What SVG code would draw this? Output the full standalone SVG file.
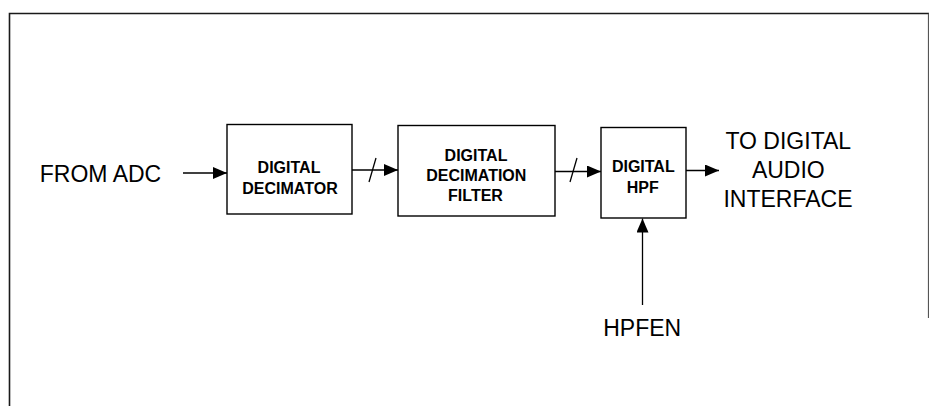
<svg xmlns="http://www.w3.org/2000/svg" width="929" height="406" viewBox="0 0 929 406">
<style>
.frame{fill:none;stroke:#1a1a1a;stroke-width:1.6}
.box{fill:#fff;stroke:#000;stroke-width:1.4}
.ln{fill:none;stroke:#000;stroke-width:1.3}
.lbl{font-family:"Liberation Sans",Arial,sans-serif;font-size:16px;font-weight:bold;fill:#000;text-anchor:middle}
.txt{font-family:"Liberation Sans",Arial,sans-serif;font-size:23px;fill:#000;text-anchor:middle}
</style>
<defs>
<marker id="ah" markerUnits="userSpaceOnUse" markerWidth="14" markerHeight="12" refX="14" refY="6" orient="auto">
<path d="M0,0 L14,6 L0,12 Z" fill="#000"/>
</marker>
</defs>
<rect width="929" height="406" fill="#fff"/>
<g id="frame">
<path class="frame" d="M9.5,406 V13.5 H929"/>
<path d="M928.5,13.5 V318" fill="none" stroke="#555" stroke-width="1.2"/>
</g>
<g id="connectors">
<line class="ln" x1="183" y1="173" x2="227" y2="173" marker-end="url(#ah)"/>
<line class="ln" x1="352" y1="170" x2="398" y2="170" marker-end="url(#ah)"/>
<line class="ln" x1="369" y1="182" x2="376" y2="158"/>
<line class="ln" x1="555" y1="171.5" x2="601" y2="171.5" marker-end="url(#ah)"/>
<line class="ln" x1="570" y1="182" x2="577" y2="158"/>
<line class="ln" x1="686" y1="170.5" x2="719" y2="170.5" marker-end="url(#ah)"/>
<line class="ln" x1="642.5" y1="305" x2="642.5" y2="218.5" marker-end="url(#ah)"/>
</g>
<g id="from-adc">
<text class="txt" x="100.5" y="181.5">FROM ADC</text>
</g>
<g id="digital-decimator">
<rect class="box" x="227" y="124.5" width="125" height="89.5"/>
<text class="lbl" x="289" y="172.5">DIGITAL</text>
<text class="lbl" x="290" y="194.3">DECIMATOR</text>
</g>
<g id="digital-decimation-filter">
<rect class="box" x="398" y="125.5" width="157" height="90.5"/>
<text class="lbl" x="476" y="160.7">DIGITAL</text>
<text class="lbl" x="476.3" y="180.7">DECIMATION</text>
<text class="lbl" x="475.5" y="200.7">FILTER</text>
</g>
<g id="digital-hpf">
<rect class="box" x="601" y="127.5" width="85" height="90.5"/>
<text class="lbl" x="643.3" y="171.7">DIGITAL</text>
<text class="lbl" x="642.8" y="193.3">HPF</text>
</g>
<g id="to-digital-audio-interface">
<text class="txt" x="788.3" y="148.7">TO DIGITAL</text>
<text class="txt" x="788.3" y="177.5">AUDIO</text>
<text class="txt" x="788" y="206.5">INTERFACE</text>
</g>
<g id="hpfen">
<text class="txt" x="642.2" y="335.7">HPFEN</text>
</g>
</svg>
